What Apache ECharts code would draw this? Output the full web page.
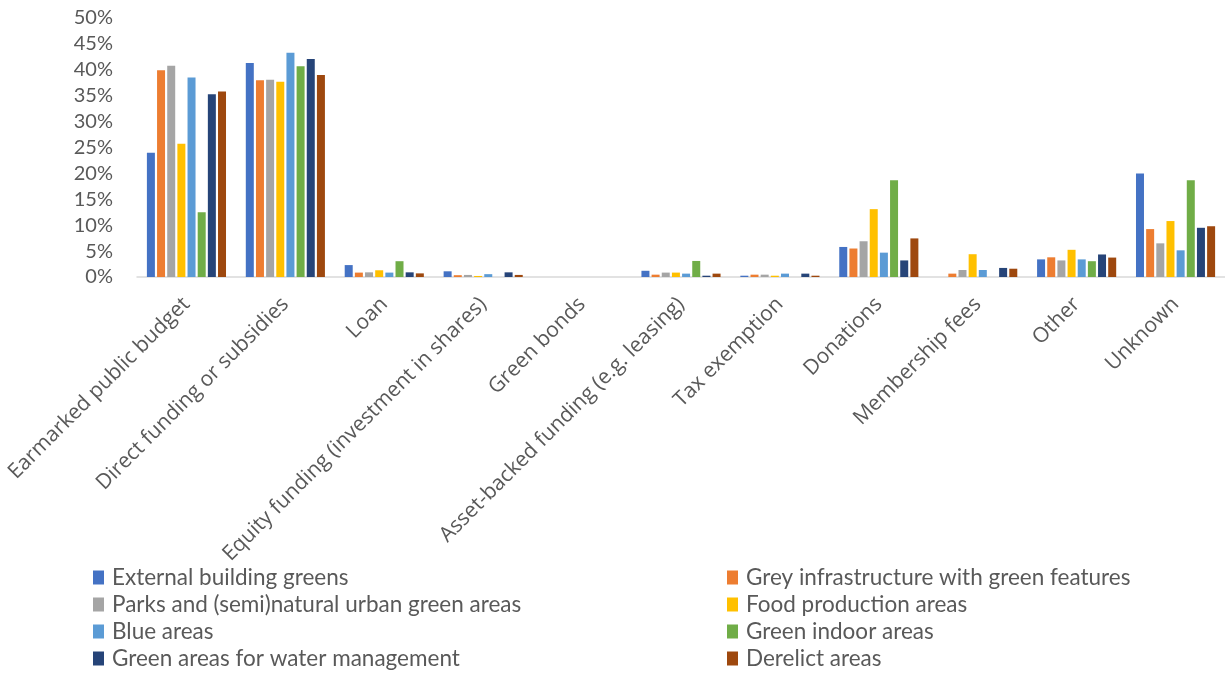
<!DOCTYPE html>
<html>
<head>
<meta charset="utf-8">
<script src="https://cdn.jsdelivr.net/npm/echarts@6/dist/echarts.min.js"></script>
<style>
  html, body { margin: 0; padding: 0; background: #ffffff; }
  #chart { width: 1225px; height: 675px; }
</style>
</head>
<body>
<div id="chart"></div>
<script>
// Funding sources (x categories)
const categories = [
  'Earmarked public budget',
  'Direct funding or subsidies',
  'Loan',
  'Equity funding (investment in shares)',
  'Green bonds',
  'Asset-backed funding (e.g. leasing)',
  'Tax exemption',
  'Donations',
  'Membership fees',
  'Other',
  'Unknown'
];

// Share of initiatives per type of green area, in percent
const externalBuildingGreens = [24.0, 41.3, 2.3, 1.1, 0, 1.2, 0.25, 5.8, 0, 3.4, 20.0];
const greyInfrastructure     = [39.9, 38.0, 0.85, 0.35, 0, 0.45, 0.45, 5.5, 0.65, 3.8, 9.25];
const parksNaturalAreas      = [40.8, 38.1, 0.9, 0.4, 0, 0.85, 0.45, 6.9, 1.35, 3.2, 6.5];
const foodProductionAreas    = [25.7, 37.7, 1.3, 0.2, 0, 0.85, 0.25, 13.1, 4.4, 5.25, 10.8];
const blueAreas              = [38.5, 43.3, 0.85, 0.55, 0, 0.65, 0.65, 4.7, 1.35, 3.4, 5.15];
const greenIndoorAreas       = [12.5, 40.7, 3.05, 0, 0, 3.1, 0, 18.7, 0, 3.05, 18.7];
const waterManagementAreas   = [35.3, 42.1, 0.9, 0.9, 0, 0.25, 0.65, 3.2, 1.75, 4.35, 9.5];
const derelictAreas          = [35.8, 39.0, 0.7, 0.4, 0, 0.65, 0.25, 7.45, 1.6, 3.75, 9.8];

// Series names (legend order)
const seriesNames = [
  'External building greens',
  'Grey infrastructure with green features',
  'Parks and (semi)natural urban green areas',
  'Food production areas',
  'Blue areas',
  'Green indoor areas',
  'Green areas for water management',
  'Derelict areas'
];
const seriesValues = [
  externalBuildingGreens, greyInfrastructure, parksNaturalAreas, foodProductionAreas,
  blueAreas, greenIndoorAreas, waterManagementAreas, derelictAreas
];
const seriesColors = ['#4472C4', '#ED7D31', '#A5A5A5', '#FFC000', '#5B9BD5', '#70AD47', '#264478', '#9E480E'];

// Y axis ticks
const yMin = 0, yMax = 50, yStep = 5;

const textColor = '#595959';

// Two legend columns of four rows each
const legendCommon = {
  orient: 'vertical',
  top: 566,
  height: 109,
  padding: 0,
  itemWidth: 11,
  itemHeight: 14,
  itemGap: 4,
  icon: 'rect',
  selectedMode: false,
  textStyle: { fontFamily: 'Lato', fontSize: 22.5, lineHeight: 23, color: textColor, padding: [0, 0, 0, 3] }
};

const option = {
  animation: false,
  backgroundColor: '#ffffff',
  grid: { left: 137, right: 0, top: 18, bottom: 398, containLabel: false },
  legend: [
    Object.assign({}, legendCommon, { left: 93, data: [seriesNames[0], seriesNames[2], seriesNames[4], seriesNames[6]] }),
    Object.assign({}, legendCommon, { left: 727, data: [seriesNames[1], seriesNames[3], seriesNames[5], seriesNames[7]] })
  ],
  xAxis: {
    type: 'category',
    data: categories,
    axisLine: { lineStyle: { color: '#D9D9D9', width: 1.5 } },
    axisTick: { show: false },
    axisLabel: {
      interval: 0,
      rotate: 45,
      margin: 24,
      fontFamily: 'Open Sans',
      fontSize: 21,
      color: textColor
    }
  },
  yAxis: {
    type: 'value',
    min: yMin,
    max: yMax,
    interval: yStep,
    axisLine: { show: false },
    axisTick: { show: false },
    splitLine: { show: false },
    axisLabel: {
      margin: 24,
      fontFamily: 'Lato',
      fontSize: 20,
      color: textColor,
      formatter: '{value}%'
    }
  },
  series: seriesNames.map((name, i) => ({
    name: name,
    type: 'bar',
    data: seriesValues[i],
    barWidth: 8,
    barGap: '27%',
    itemStyle: { color: seriesColors[i] }
  }))
};

const chart = echarts.init(document.getElementById('chart'), null, { renderer: 'canvas' });
chart.setOption(option);
</script>
</body>
</html>
